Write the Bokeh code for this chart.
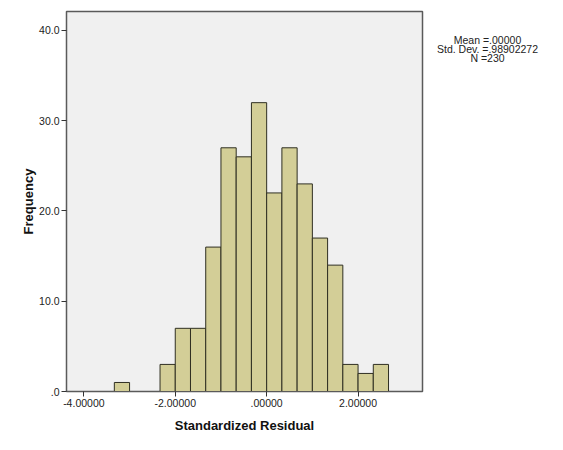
from bokeh.plotting import figure
from bokeh.models import FixedTicker, Range1d
from bokeh.core.properties import value
from bokeh.layouts import row
from bokeh.embed import file_html
from bokeh.resources import INLINE

# histogram of standardized residuals (bin width 1/3)
bin_left = [-3.3333, -3.0, -2.6667, -2.3333, -2.0, -1.6667, -1.3333, -1.0, -0.6667,
            -0.3333, 0.0, 0.3333, 0.6667, 1.0, 1.3333, 1.6667, 2.0, 2.3333]
counts = [1, 0, 0, 3, 7, 7, 16, 27, 26, 32, 22, 27, 23, 17, 14, 3, 2, 3]
bin_width = 1 / 3

x_ticks = [-4, -2, 0, 2]
x_tick_labels = ["-4.00000", "-2.00000", ".00000", "2.00000"]
y_ticks = [0, 10, 20, 30, 40]
y_tick_labels = [".0", "10.0", "20.0", "30.0", "40.0"]

stats = ["Mean =.00000", "Std. Dev. =.98902272", "N =230"]

p = figure(width=430, height=440, output_backend="svg", toolbar_location=None,
           x_range=Range1d(-4.38, 3.41), y_range=Range1d(0, 42.1),
           min_border_left=66, min_border_right=8, min_border_top=11, min_border_bottom=49)
p.background_fill_color = "#F0F0F0"
p.border_fill_color = "white"
p.outline_line_color = "#5A5A5A"
p.outline_line_width = 1.5
p.xgrid.visible = False
p.ygrid.visible = False

lefts = [b for b, c in zip(bin_left, counts) if c > 0]
hs = [c for c in counts if c > 0]
p.quad(left=lefts, right=[b + bin_width for b in lefts], bottom=0, top=hs,
       fill_color="#D3CE97", line_color="#2F2F22", line_width=1)

for ax, ticks, labels in ((p.xaxis, x_ticks, x_tick_labels), (p.yaxis, y_ticks, y_tick_labels)):
    ax.ticker = FixedTicker(ticks=ticks)
    ax.major_label_overrides = {t: l for t, l in zip(ticks, labels)}
    ax.minor_tick_line_color = None
    ax.major_tick_in = 0
    ax.major_tick_out = 5
    ax.major_tick_line_color = "#333333"
    ax.axis_line_color = "#5A5A5A"
    ax.major_label_text_font = "Liberation Sans"
    ax.major_label_text_font_size = "10.5px"
    ax.major_label_text_color = "#222222"
    ax.major_label_standoff = 2
    ax.axis_label_text_font = "Liberation Sans"
    ax.axis_label_text_font_size = "13px"
    ax.axis_label_text_font_style = "bold"
    ax.axis_label_text_color = "#111111"

p.xaxis.axis_label = "Standardized Residual"
p.yaxis.axis_label = "Frequency"
p.xaxis.axis_label_standoff = 8
p.yaxis.axis_label_standoff = 0

# side panel holding the summary statistics
side = figure(width=130, height=440, output_backend="svg", toolbar_location=None,
              x_range=Range1d(0, 130), y_range=Range1d(440, 0),
              min_border=0, outline_line_color=None)
side.axis.visible = False
side.grid.visible = False
side.text(x=[57, 57, 57], y=[33, 43.5, 54], text=stats, text_align="center",
          text_baseline="middle", text_font=value("Liberation Sans"),
          text_font_size="10.5px", text_color="#222222")

open("out.html", "w").write(file_html(row(p, side), INLINE))
